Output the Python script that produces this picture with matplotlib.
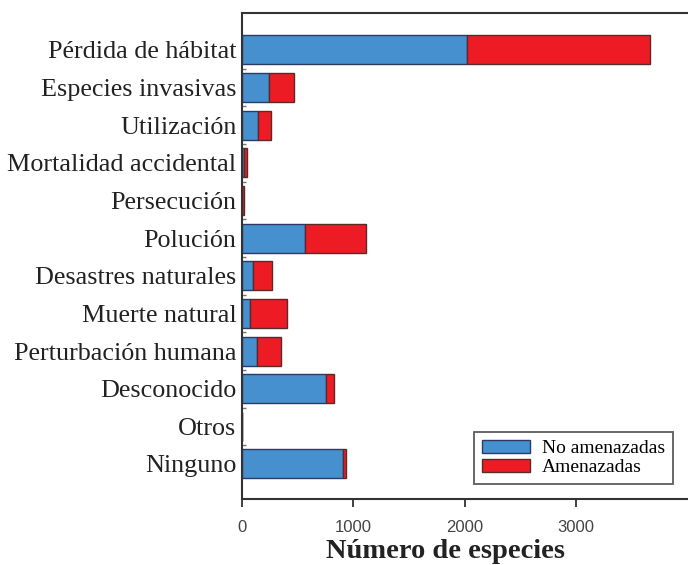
import numpy as np
import matplotlib.pyplot as plt

plt.rcParams["font.family"] = "Liberation Serif"

categories = ["Pérdida de hábitat", "Especies invasivas", "Utilización",
              "Mortalidad accidental", "Persecución", "Polución",
              "Desastres naturales", "Muerte natural", "Perturbación humana",
              "Desconocido", "Otros", "Ninguno"]
no_amenazadas = [2020, 245, 147, 15, 2, 569, 102, 72, 132, 755, 0, 905]
amenazadas = [1650, 222, 111, 33, 16, 542, 165, 329, 216, 72, 0, 29]

blue = "#4690D0"
red = "#ED1C24"

fig = plt.figure(figsize=(6.88, 5.65), dpi=100)
ax = fig.add_axes([242/688, 1 - 499/565, 1 - 242/688, (499 - 13)/565])

y = np.arange(len(categories))
ax.barh(y, no_amenazadas, height=0.77, color=blue, edgecolor="#2d3b63",
        linewidth=1.0, label="No amenazadas")
ax.barh(y, amenazadas, left=no_amenazadas, height=0.77, color=red,
        edgecolor="#5a2a2a", linewidth=1.0, label="Amenazadas")

ax.set_xlim(0, 4007)
ax.set_ylim(11.93, -0.98)

ax.set_yticks(y)
ax.set_yticklabels(categories, fontsize=18.8, color="#222222")
ax.set_yticks(np.arange(len(categories) - 1) + 0.5, minor=True)
ax.tick_params(axis="y", which="major", length=0, pad=4)
ax.tick_params(axis="y", which="minor", direction="in", length=3,
               color="#777777", width=1)

ax.set_xticks([0, 1000, 2000, 3000])
ax.tick_params(axis="x", direction="out", length=6, width=1.3,
               color="#333333", labelsize=12, labelcolor="#444444", pad=9)
for lab in ax.get_xticklabels():
    lab.set_family("Liberation Sans")

ax.set_xlabel("Número de especies", fontsize=20.5, fontweight="bold",
              color="#222222")
ax.xaxis.set_label_coords(0.457, -0.082)

ax.spines["right"].set_visible(False)
for s in ["left", "top", "bottom"]:
    ax.spines[s].set_linewidth(1.5)
    ax.spines[s].set_color("#333333")

leg = ax.legend(loc="lower right", bbox_to_anchor=(673/688, 1 - 484/565),
                bbox_transform=fig.transFigure, borderaxespad=0,
                fontsize=14, fancybox=False, frameon=True,
                handlelength=2.5, handleheight=0.6, labelspacing=0.1,
                borderpad=0.4, handletextpad=0.6)
leg.get_frame().set_edgecolor("#333333")
leg.get_frame().set_linewidth(1.3)

fig.savefig("out.png", dpi=100)
